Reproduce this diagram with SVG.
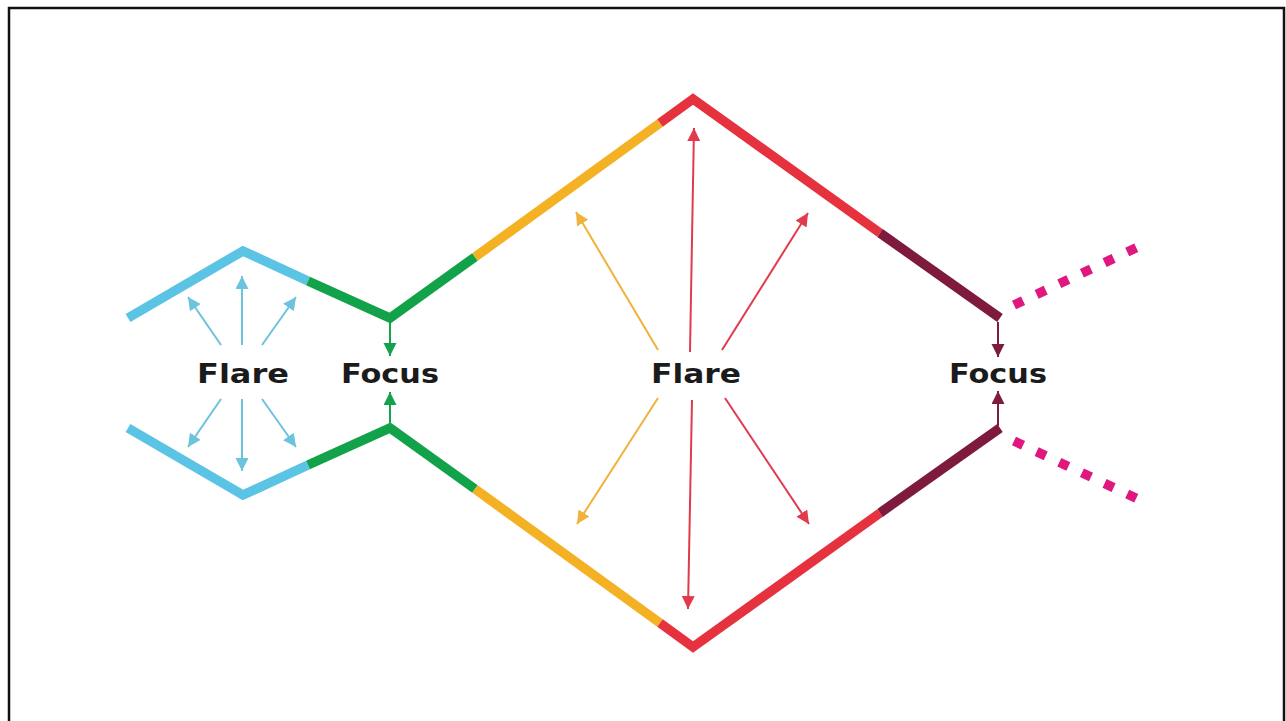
<svg xmlns="http://www.w3.org/2000/svg" width="1286" height="721" viewBox="0 0 1286 721">
<defs>
<style>
.seg{fill:none;stroke-width:9.5;stroke-linejoin:miter;stroke-linecap:butt}
.arr{fill:none;stroke-width:2}
.lbl{font-family:"DejaVu Sans","Liberation Sans",sans-serif;font-weight:bold;font-size:27px;fill:#1b1b1b;text-anchor:middle}
</style>
<marker id="hb" markerUnits="userSpaceOnUse" markerWidth="15" markerHeight="15" refX="13" refY="6.5" orient="auto"><path d="M0,0 L13,6.5 L0,13 z" fill="#6cc3de"/></marker>
<marker id="hg" markerUnits="userSpaceOnUse" markerWidth="15" markerHeight="15" refX="13" refY="6.5" orient="auto"><path d="M0,0 L13,6.5 L0,13 z" fill="#14a24c"/></marker>
<marker id="hy" markerUnits="userSpaceOnUse" markerWidth="15" markerHeight="15" refX="13" refY="6.5" orient="auto"><path d="M0,0 L13,6.5 L0,13 z" fill="#f0b23a"/></marker>
<marker id="hr" markerUnits="userSpaceOnUse" markerWidth="15" markerHeight="15" refX="13" refY="6.5" orient="auto"><path d="M0,0 L13,6.5 L0,13 z" fill="#e23a4c"/></marker>
<marker id="hm" markerUnits="userSpaceOnUse" markerWidth="15" markerHeight="15" refX="13" refY="6.5" orient="auto"><path d="M0,0 L13,6.5 L0,13 z" fill="#7e1c3f"/></marker>
</defs>
<rect width="1286" height="721" fill="#ffffff"/>
<rect x="9" y="8" width="1275" height="730" fill="none" stroke="#111111" stroke-width="2.5"/>

<g id="paths">
<path class="seg" stroke="#5bc3e4" d="M128,318 L243,251 L308,281"/>
<path class="seg" stroke="#12a24a" d="M308,281 L390,318 L475,257"/>
<path class="seg" stroke="#f5b124" d="M475,257 L660,123"/>
<path class="seg" stroke="#e6323f" d="M660,123 L693,99 L880,233"/>
<path class="seg" stroke="#7e1a3e" d="M880,233 L1000,318"/>
<path class="seg" stroke="#5bc3e4" d="M128,428 L243,495 L308,465"/>
<path class="seg" stroke="#12a24a" d="M308,465 L390,428 L475,489"/>
<path class="seg" stroke="#f5b124" d="M475,489 L660,623"/>
<path class="seg" stroke="#e6323f" d="M660,623 L693,647 L880,513"/>
<path class="seg" stroke="#7e1a3e" d="M880,513 L1000,428"/>
<path class="seg" stroke="#e0177f" stroke-dasharray="10 15" d="M1014,305 L1140,246"/>
<path class="seg" stroke="#e0177f" stroke-dasharray="10 15" d="M1014,441 L1140,500"/>
</g>

<g id="connectors">
<line class="arr" stroke="#6cc3de" x1="221" y1="345" x2="188" y2="297" marker-end="url(#hb)"/>
<line class="arr" stroke="#6cc3de" x1="242" y1="345" x2="242" y2="276" marker-end="url(#hb)"/>
<line class="arr" stroke="#6cc3de" x1="262" y1="345" x2="296" y2="297" marker-end="url(#hb)"/>
<line class="arr" stroke="#6cc3de" x1="221" y1="399" x2="188" y2="447" marker-end="url(#hb)"/>
<line class="arr" stroke="#6cc3de" x1="242" y1="399" x2="242" y2="471" marker-end="url(#hb)"/>
<line class="arr" stroke="#6cc3de" x1="262" y1="399" x2="296" y2="447" marker-end="url(#hb)"/>
<line class="arr" stroke="#14a24c" x1="390" y1="320" x2="390" y2="356" marker-end="url(#hg)"/>
<line class="arr" stroke="#14a24c" x1="390" y1="426" x2="390" y2="392" marker-end="url(#hg)"/>
<line class="arr" stroke="#f0b23a" x1="658" y1="350" x2="576" y2="212" marker-end="url(#hy)"/>
<line class="arr" stroke="#e23a4c" x1="690" y1="352" x2="694" y2="128" marker-end="url(#hr)"/>
<line class="arr" stroke="#e23a4c" x1="722" y1="350" x2="808" y2="213" marker-end="url(#hr)"/>
<line class="arr" stroke="#f0b23a" x1="658" y1="398" x2="577" y2="524" marker-end="url(#hy)"/>
<line class="arr" stroke="#e23a4c" x1="692" y1="400" x2="688" y2="609" marker-end="url(#hr)"/>
<line class="arr" stroke="#e23a4c" x1="725" y1="398" x2="809" y2="524" marker-end="url(#hr)"/>
<line class="arr" stroke="#7e1c3f" x1="998" y1="322" x2="998" y2="357" marker-end="url(#hm)"/>
<line class="arr" stroke="#7e1c3f" x1="998" y1="426" x2="998" y2="391" marker-end="url(#hm)"/>
</g>

<g id="flare1"><text class="lbl" x="243" y="383" textLength="92" lengthAdjust="spacingAndGlyphs">Flare</text></g>
<g id="focus1"><text class="lbl" x="390" y="383" textLength="98" lengthAdjust="spacingAndGlyphs">Focus</text></g>
<g id="flare2"><text class="lbl" x="696" y="383" textLength="90" lengthAdjust="spacingAndGlyphs">Flare</text></g>
<g id="focus2"><text class="lbl" x="998" y="383" textLength="98" lengthAdjust="spacingAndGlyphs">Focus</text></g>
</svg>
